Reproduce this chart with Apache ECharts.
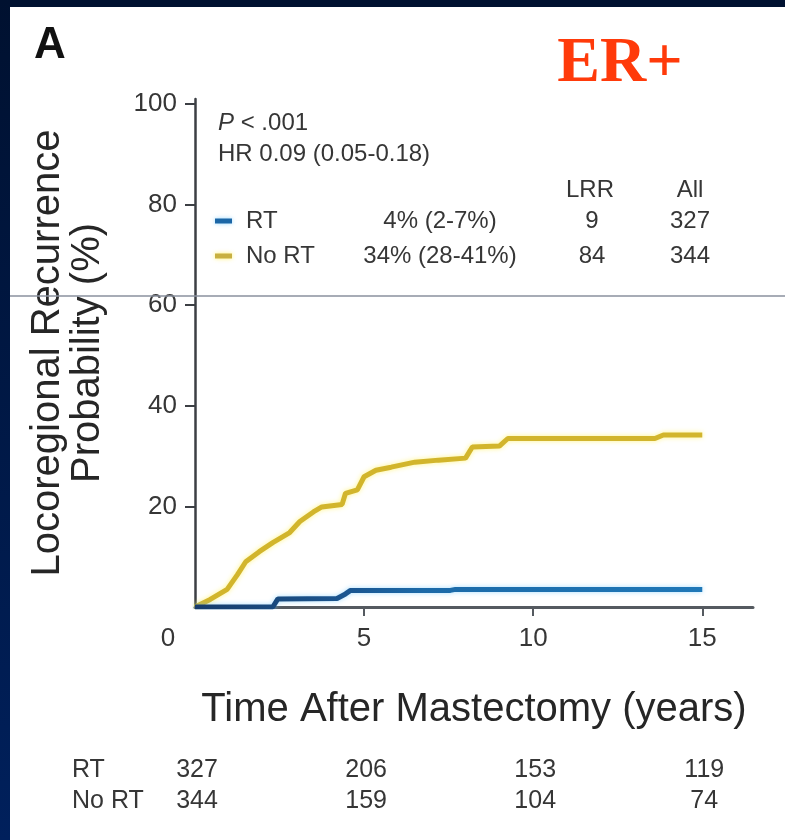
<!DOCTYPE html>
<html>
<head>
<meta charset="utf-8">
<title>Locoregional Recurrence — ER+</title>
<script src="https://cdn.jsdelivr.net/npm/echarts@6/dist/echarts.min.js"></script>
<style>
  html, body { margin: 0; padding: 0; background: #ffffff; }
  #chart { width: 785px; height: 840px; }
</style>
</head>
<body>
<div id="chart"></div>
<script>
// Cumulative locoregional recurrence (%) by years after mastectomy
const timesNoRT = [0, 0.45, 0.95, 1.25, 1.5, 1.9, 2.3, 2.8, 3.1, 3.5, 3.75, 4.35, 4.45, 4.8, 5.0, 5.35, 5.8, 6.5, 7.2, 8.0, 8.2, 9.0, 9.25, 13.6, 13.85, 15];
const probNoRT  = [0, 1.5, 3.5, 6.4, 9.0, 11.0, 12.8, 14.8, 17.0, 18.9, 19.9, 20.4, 22.6, 23.3, 25.9, 27.2, 27.8, 28.8, 29.2, 29.6, 31.8, 32.0, 33.5, 33.5, 34.2, 34.2];
const timesRT   = [0, 2.3, 2.45, 4.2, 4.45, 4.6, 7.55, 7.7, 15];
const probRT    = [0, 0, 1.6, 1.7, 2.6, 3.3, 3.3, 3.5, 3.5];

// Number at risk
const atRiskTimes = [0, 5, 10, 15];
const atRiskRT    = [327, 206, 153, 119];
const atRiskNoRT  = [344, 159, 104, 74];

// Legend table
const groupNames = ['RT', 'No RT'];
const groupEst   = ['4% (2-7%)', '34% (28-41%)'];
const groupLRR   = [9, 84];
const groupAll   = [327, 344];

const xTicks = [0, 5, 10, 15];
const yTicks = [20, 40, 60, 80, 100];

const FONT = '"Liberation Sans", Arial, Helvetica, sans-serif';
const TXT = '#363636';
const RT_COLOR = '#1b66a6';
const NORT_COLOR = '#d2b52c';

const chart = echarts.init(document.getElementById('chart'), null, { renderer: 'canvas' });

function pairs(xs, ys) { return xs.map((x, i) => [x, ys[i]]); }

const option = {
  animation: false,
  backgroundColor: '#ffffff',
  grid: { left: 195, right: 32, top: 99, bottom: 233, containLabel: false },
  xAxis: {
    type: 'value', min: 0, max: 16.5, interval: 5,
    name: 'Time After Mastectomy (years)',
    nameLocation: 'middle', nameGap: 83,
    nameTextStyle: { fontFamily: FONT, fontSize: 40, color: '#262626', lineHeight: 40 },
    axisLine: { show: true, lineStyle: { color: '#555a60', width: 3 } },
    axisTick: { show: true, inside: false, length: 9, customValues: [5, 10, 15], lineStyle: { color: '#555a60', width: 2 } },
    axisLabel: {
      customValues: xTicks, margin: 19,
      fontFamily: FONT, fontSize: 26, color: TXT,
      formatter: v => (v === 0 ? '{z|0}' : String(v)),
      rich: { z: { fontFamily: FONT, fontSize: 26, color: TXT, padding: [0, 54, 0, 0] } }
    },
    splitLine: { show: false }
  },
  yAxis: {
    type: 'value', min: 0, max: 101, interval: 20,
    name: 'Locoregional Recurrence\nProbability (%)',
    nameLocation: 'middle', nameGap: 87, nameRotate: 90,
    nameTextStyle: { fontFamily: FONT, fontSize: 40, color: '#262626', lineHeight: 40, align: 'center' },
    axisLine: { show: true, lineStyle: { color: '#3c3f44', width: 2.5 } },
    axisTick: { show: true, inside: false, length: 10, customValues: yTicks, lineStyle: { color: '#3c3f44', width: 2 } },
    axisLabel: { customValues: yTicks, margin: 18, fontFamily: FONT, fontSize: 26, color: TXT },
    splitLine: { show: false }
  },
  series: [
    {
      name: 'No RT', type: 'line', data: pairs(timesNoRT, probNoRT),
      showSymbol: false, smooth: false, z: 3,
      lineStyle: { color: NORT_COLOR, width: 5, shadowColor: 'rgba(255,236,40,0.55)', shadowBlur: 5 }
    },
    {
      name: 'RT', type: 'line', data: pairs(timesRT, probRT),
      showSymbol: false, smooth: false, z: 4,
      lineStyle: {
        width: 5, shadowColor: 'rgba(110,200,255,0.6)', shadowBlur: 5,
        color: new echarts.graphic.LinearGradient(0, 0, 1, 0, [
          { offset: 0, color: '#173c6a' },
          { offset: 0.3, color: '#1a5590' },
          { offset: 0.45, color: '#1c6aa8' },
          { offset: 1, color: '#1f78b8' }
        ])
      }
    }
  ]
};

chart.setOption(option);

// Overlay: frame, panel letter, subgroup title, legend table and at-risk table
const g = [];
// dark frame along top and left edges
g.push({ type: 'rect', shape: { x: 0, y: 0, width: 785, height: 7 }, style: { fill: '#001130' }, z: 10 });
g.push({ type: 'rect', shape: { x: 0, y: 0, width: 10, height: 840 },
  style: { fill: new echarts.graphic.LinearGradient(0, 0, 0, 1, [
    { offset: 0, color: '#001130' }, { offset: 1, color: '#00205c' }]) }, z: 10 });
// thin grey rule across the panel
g.push({ type: 'line', shape: { x1: 10, y1: 296, x2: 785, y2: 296 }, style: { stroke: '#8a909e', lineWidth: 1.5 }, z: 9 });

g.push({ type: 'text', x: 34, y: 46, style: { text: 'A', font: 'bold 44px ' + FONT, fill: '#111', textVerticalAlign: 'middle' }, z: 10 });
g.push({ type: 'text', x: 620, y: 96, style: { text: 'ER+', font: 'bold 64px "Liberation Serif", "Times New Roman", serif', fill: '#ff3a0a', textAlign: 'center', textVerticalAlign: 'bottom' }, z: 10 });

const legFont = '24px ' + FONT;
function legText(text, x, y, align) {
  g.push({ type: 'text', x, y, style: { text, font: legFont, fill: TXT, textAlign: align || 'left', textVerticalAlign: 'middle' }, z: 10 });
}
g.push({ type: 'text', x: 218, y: 123, style: {
  text: '{i|P} < .001', fill: TXT, textVerticalAlign: 'middle', font: legFont,
  rich: { i: { fontStyle: 'italic', fontFamily: FONT, fontSize: 24, fill: TXT } } }, z: 10 });
legText('HR 0.09 (0.05-0.18)', 218, 154);
legText('LRR', 590, 190, 'center');
legText('All', 690, 190, 'center');
const rowY = [221, 256];
const swatchColors = [RT_COLOR, '#c8b040'];
const haloColors = ['rgba(110,200,255,0.7)', 'rgba(255,236,40,0.7)'];
groupNames.forEach((name, i) => {
  const y = rowY[i];
  g.push({ type: 'line', shape: { x1: 215, y1: y, x2: 232, y2: y },
    style: { stroke: swatchColors[i], lineWidth: 5, shadowColor: haloColors[i], shadowBlur: 4 }, z: 10 });
  legText(name, 246, y);
  legText(groupEst[i], 440, y, 'center');
  legText(String(groupLRR[i]), 592, y, 'center');
  legText(String(groupAll[i]), 690, y, 'center');
});

// number-at-risk rows placed under the time axis
const riskRows = [{ label: 'RT', vals: atRiskRT, y: 770 }, { label: 'No RT', vals: atRiskNoRT, y: 801 }];
riskRows.forEach(row => {
  g.push({ type: 'text', x: 72, y: row.y, style: { text: row.label, font: '25px ' + FONT, fill: TXT, textVerticalAlign: 'middle' }, z: 10 });
  atRiskTimes.forEach((t, j) => {
    const px = chart.convertToPixel({ xAxisIndex: 0 }, t);
    g.push({ type: 'text', x: px + 2, y: row.y, style: { text: String(row.vals[j]), font: '25px ' + FONT, fill: TXT, textAlign: 'center', textVerticalAlign: 'middle' }, z: 10 });
  });
});

chart.setOption({ graphic: g });
</script>
</body>
</html>
